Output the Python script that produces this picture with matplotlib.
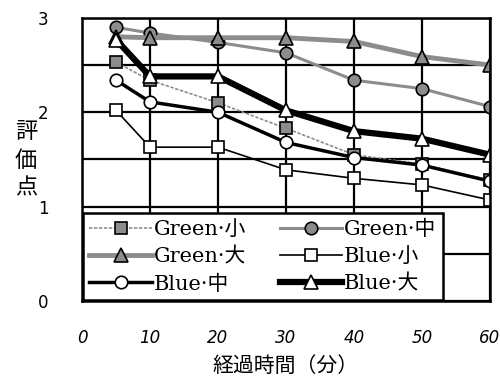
import numpy as np
import matplotlib
matplotlib.use('Agg')
import matplotlib.pyplot as plt

# %% data
minutes = [5, 10, 20, 30, 40, 50, 60]
green_small = [2.53, 2.34, 2.10, 1.83, 1.55, 1.45, 1.28]
green_mid = [2.90, 2.84, 2.74, 2.63, 2.34, 2.25, 2.06]
green_large = [2.80, 2.79, 2.79, 2.79, 2.75, 2.59, 2.50]
blue_small = [2.02, 1.63, 1.63, 1.39, 1.30, 1.23, 1.07]
blue_mid = [2.34, 2.11, 2.00, 1.68, 1.52, 1.44, 1.27]
blue_large = [2.77, 2.38, 2.38, 2.02, 1.80, 1.72, 1.55]

labels = ['Green·小', 'Green·中', 'Green·大', 'Blue·小', 'Blue·中', 'Blue·大']
x_ticks = [0, 10, 20, 30, 40, 50, 60]
y_ticks = [0, 1, 2, 3]

cjk = ['Noto Sans CJK JP', 'DejaVu Sans']
serif = ['DejaVu Serif', 'Noto Sans CJK JP']

# %% plot
fig = plt.figure(figsize=(5.0, 3.81), dpi=100)
ax = fig.add_axes([0.164, 0.21, 0.816, 0.743])

gray = '#8c8c8c'
h_gs, = ax.plot(minutes, green_small, color=gray, lw=1.2, ls=(0, (2, 1)),
                marker='s', ms=9, mfc=gray, mec='k', mew=1.2, label=labels[0])
h_gm, = ax.plot(minutes, green_mid, color=gray, lw=2.2,
                marker='o', ms=9, mfc=gray, mec='k', mew=1.2, label=labels[1])
h_gl, = ax.plot(minutes, green_large, color=gray, lw=3.5,
                marker='^', ms=10, mfc=gray, mec='k', mew=1.2, label=labels[2])
h_bs, = ax.plot(minutes, blue_small, color='k', lw=1.2,
                marker='s', ms=9, mfc='white', mec='k', mew=1.2, label=labels[3])
h_bm, = ax.plot(minutes, blue_mid, color='k', lw=2.5,
                marker='o', ms=9, mfc='white', mec='k', mew=1.2, label=labels[4])
h_bl, = ax.plot(minutes, blue_large, color='k', lw=4.5,
                marker='^', ms=10, mfc='white', mec='k', mew=1.2, label=labels[5])

ax.set_xlim(0, 60)
ax.set_ylim(0, 3)
ax.set_xticks(x_ticks)
ax.set_yticks(y_ticks)
ax.set_yticks([0.5, 1.5, 2.5], minor=True)
ax.grid(which='both', color='k', lw=1.6)
ax.tick_params(which='both', length=0)
ax.tick_params(axis='y', pad=24, labelsize=12)
ax.tick_params(axis='x', pad=20, labelsize=12)
for t in ax.get_xticklabels():
    t.set_fontstyle('italic')
    t.set_family('DejaVu Sans')
for sp in ax.spines.values():
    sp.set_linewidth(1.8)
ax.set_axisbelow(True)

ax.set_xlabel('経過時間（分）', family=cjk, fontsize=15, labelpad=6)
fig.text(0.052, 0.58, '評\n価\n点', family=cjk, fontsize=16, ha='center',
         va='center', linespacing=1.3)

# legend fills column-wise: reorder to match reference rows
order = [h_gs, h_gl, h_bm, h_gm, h_bs, h_bl]
leg = ax.legend(order, [h.get_label() for h in order], ncol=2,
                loc='lower left', bbox_to_anchor=(0, 0), borderaxespad=0.05,
                prop={'family': serif, 'size': 15}, fancybox=False,
                framealpha=1, edgecolor='k', handlelength=3.0,
                handletextpad=0.1, columnspacing=1.6, labelspacing=0.4,
                borderpad=0.3)
leg.get_frame().set_linewidth(1.8)
leg.set_zorder(5)

fig.savefig('out.png', dpi=100)
